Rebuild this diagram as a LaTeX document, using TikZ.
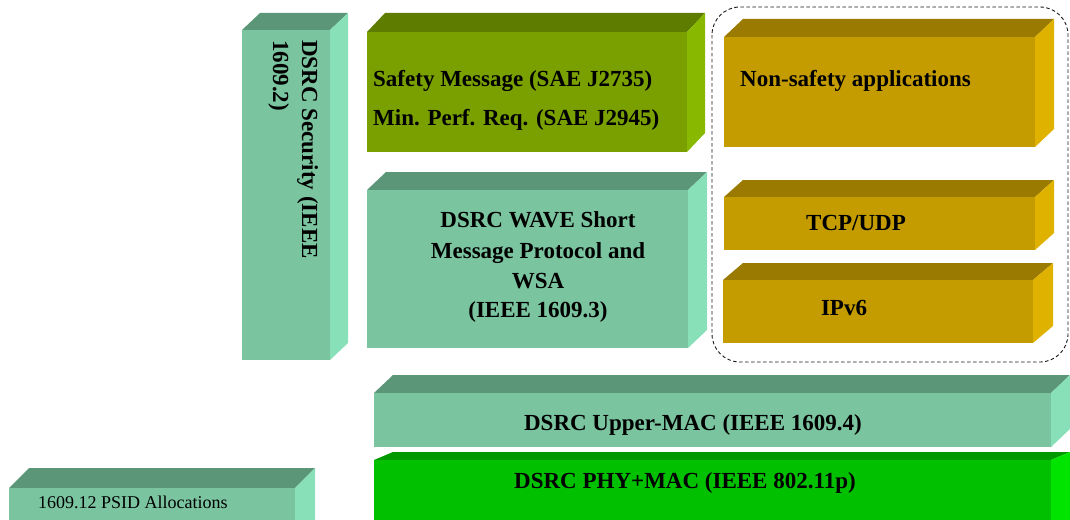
\documentclass[tikz,border=0pt]{standalone}
\usepackage{fontspec}
\setmainfont{Liberation Serif}
\definecolor{tealF}{HTML}{7AC4A0}
\definecolor{tealT}{HTML}{5C9678}
\definecolor{tealS}{HTML}{88E0B8}
\definecolor{oliveF}{HTML}{7AA000}
\definecolor{oliveT}{HTML}{5E7C00}
\definecolor{oliveS}{HTML}{88B800}
\definecolor{goldF}{HTML}{C49C00}
\definecolor{goldT}{HTML}{9A7A00}
\definecolor{goldS}{HTML}{E0B200}
\definecolor{greenF}{HTML}{00C000}
\definecolor{greenT}{HTML}{009A00}
\definecolor{greenS}{HTML}{00E400}
% #1 name, #2 x1, #3 y1, #4 x2, #5 y2, #6 dx, #7 dy, #8 colour prefix
\newcommand\prism[8]{%
  \fill[#8T] (#2,#3) -- (#2+#6,#3-#7) -- (#4+#6,#3-#7) -- (#4,#3) -- cycle;
  \fill[#8S] (#4,#3) -- (#4+#6,#3-#7) -- (#4+#6,#5-#7) -- (#4,#5) -- cycle;
  \fill[#8F] (#2,#3) rectangle (#4,#5);
  \coordinate (#1) at ({(#2+#4)/2},{(#3+#5)/2});
}
\tikzset{
  lbl/.style={font=\fontsize{23}{28}\selectfont\bfseries, inner sep=0pt, text=black},
  small/.style={font=\fontsize{18}{22}\selectfont, inner sep=0pt, text=black},
  group/.style={draw=black!90, line width=0.9pt, dash pattern=on 3.5pt off 2.5pt, rounded corners=28pt},
}
\begin{document}
\begin{tikzpicture}[x=1pt,y=-1pt]
\useasboundingbox (0,0) rectangle (1070,519);
\clip (0,0) rectangle (1070,519);
% boxes
\prism{sec}{242}{30}{330}{360}{18}{17}{teal}
\prism{safe}{367}{32}{687}{152}{18}{19}{olive}
\prism{wave}{367}{190}{688}{348}{19}{18}{teal}
\prism{nons}{724}{37}{1035}{147}{19}{18}{gold}
\prism{tcp}{724}{197}{1035}{250}{19}{17}{gold}
\prism{ipv}{723}{280}{1033}{343}{20}{17}{gold}
\prism{umac}{374}{393}{1051}{447}{19}{18}{teal}
\prism{phy}{374}{460}{1051}{540}{19}{8}{green}
\prism{psid}{9}{488}{295}{540}{20}{20}{teal}
% group outline
\draw[group] (712,7) rectangle (1068,362);
% texts
\node[lbl, rotate=-90, anchor=base west] (secA) at (302,40) {DSRC Security (IEEE};
\node[lbl, rotate=-90, anchor=base west] (secB) at (273,40) {1609.2)};
\node[lbl, anchor=base west] (safeA) at (373,86) {Safety Message (SAE J2735)};
\node[lbl, anchor=base west] (safeB) at (373,125) {Min. Perf. Req. (SAE J2945)};
\node[lbl, anchor=base] (waveA) at (538,227) {DSRC WAVE Short};
\node[lbl, anchor=base] (waveB) at (538,258) {Message Protocol and};
\node[lbl, anchor=base] (waveC) at (538,288) {WSA};
\node[lbl, anchor=base] (waveD) at (538,317) {(IEEE 1609.3)};
\node[lbl, anchor=base west] (nonsT) at (740,86) {Non-safety applications};
\node[lbl, anchor=base] (tcpT) at (856,230) {TCP/UDP};
\node[lbl, anchor=base] (ipvT) at (844,315) {IPv6};
\node[lbl, anchor=base] (umacT) at (693,430) {DSRC Upper-MAC (IEEE 1609.4)};
\node[lbl, anchor=base] (phyT) at (685,488) {DSRC PHY+MAC (IEEE 802.11p)};
\node[small, anchor=base west] (psidT) at (38,508) {1609.12 PSID Allocations};
\end{tikzpicture}
\end{document}
